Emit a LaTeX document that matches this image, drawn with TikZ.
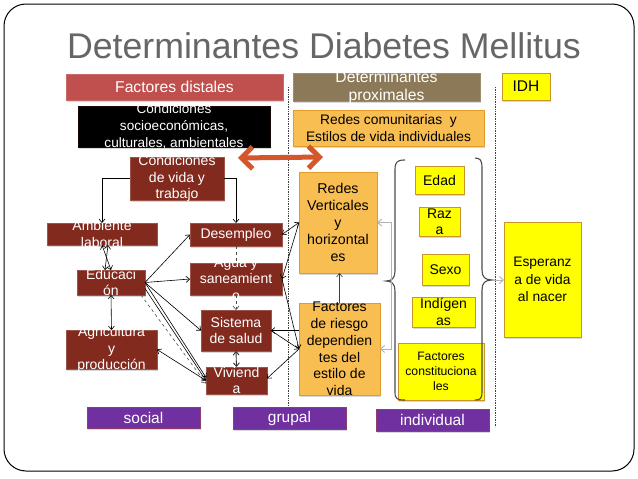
\documentclass[tikz,border=0pt]{standalone}
\usepackage{fontspec}
\setmainfont{Liberation Sans}
\usetikzlibrary{arrows.meta,shadows,calc}
\definecolor{cRed}{HTML}{C0504D}
\definecolor{cBrown}{HTML}{8C7957}
\definecolor{cDark}{HTML}{822A1E}
\definecolor{cOrange}{HTML}{F9BE52}
\definecolor{cOrangeB}{HTML}{E39B2C}
\definecolor{cYellow}{HTML}{FFFF00}
\definecolor{cYellowB}{HTML}{C8952B}
\definecolor{cPurple}{HTML}{7030A0}
\definecolor{cPurpleB}{HTML}{8E3E6C}
\definecolor{cArrow}{HTML}{D4562A}
\definecolor{cTitle}{HTML}{666666}
\newcommand{\fs}[2]{\fontsize{#1}{#2}\selectfont}
\newcommand{\mkbox}[6]{\node[#1, minimum width={(#5-#3)*1pt}, minimum height={(#6-#4)*1pt}] (#2) at ({(#3+#5)/2},{(#4+#6)/2}) {};}
\tikzset{
  bx/.style={rectangle, inner sep=0pt, outer sep=0pt, line width=0.8pt,
    drop shadow={shadow xshift=1.3pt, shadow yshift=-1.6pt, opacity=0.3}},
  redF/.style={bx, fill=cRed, draw=cRed!85!white},
  brownP/.style={bx, fill=cBrown, draw=cBrown!85!white},
  blackbox/.style={bx, fill=black, draw=black!80!cDark},
  darkbox/.style={bx, fill=cDark, draw=cDark!80!white},
  orangebox/.style={bx, fill=cOrange, draw=cOrangeB},
  yellowbox/.style={bx, fill=cYellow, draw=cYellowB},
  purplebox/.style={bx, fill=cPurple, draw=cPurpleB},
  lab/.style={inner sep=0pt, align=center, text=black},
  wlab/.style={lab, text=white},
  conn/.style={line width=0.6pt, black},
  ar/.style={conn, -{Straight Barb[length=3.5pt,width=6pt]}},
  dar/.style={conn, {Straight Barb[length=3.5pt,width=6pt]}-{Straight Barb[length=3.5pt,width=6pt]}},
  dsh/.style={conn, dashed, black!70},
  gconn/.style={line width=0.9pt, black!30, -{Straight Barb[length=4pt,width=7pt]}},
  sepline/.style={densely dotted, line width=0.7pt, black!75},
  bracepath/.style={line width=1.1pt, black!70},
  bigarrow/.style={line width=5pt, cArrow,
    {Straight Barb[length=11pt,width=22pt,line width=5pt]}-{Straight Barb[length=11pt,width=22pt,line width=5pt]}}
}
\begin{document}
\begin{tikzpicture}[x=1pt,y=-1pt]
\useasboundingbox (0,0) rectangle (638,479);
\fill[white] (0,0) rectangle (638,479);
\draw[line width=1pt, rounded corners=22pt] (4,4) rectangle (634,471);

\node[anchor=base, text=cTitle, inner sep=0pt, font=\fs{35.7}{40}] (title) at (324,58) {Determinantes Diabetes Mellitus};

% separators
\draw[sepline] (288,87) -- (288,405);
\draw[sepline] (495,87) -- (495,427);

% header boxes
\mkbox{redF}{fd}{66}{74}{283}{100}
\node[wlab, font=\fs{15.7}{18}] at (fd) {Factores distales};
\mkbox{brownP}{dp}{293}{73}{480}{101}
\node[wlab, font=\fs{15.7}{18}] at (dp) {Determinantes\\proximales};
\mkbox{yellowbox}{idh}{502}{73}{550}{100}
\node[lab, font=\fs{15.5}{18}] at (idh) {IDH};

\mkbox{blackbox}{cse}{78}{106}{270}{147}
\node[wlab, font=\fs{13.6}{17}] at (cse) {Condiciones\\socioeconómicas,\\culturales, ambientales};
\mkbox{orangebox}{rc}{293}{110}{484}{146}
\node[lab, font=\fs{13.8}{16.7}] at (rc) {Redes comunitarias~ y\\Estilos de vida individuales};

% social column
\mkbox{darkbox}{condv}{130}{157}{224}{200}
\node[wlab, font=\fs{14}{16.7}] at (condv) {Condiciones\\de vida y\\trabajo};
\mkbox{darkbox}{amb}{47}{223}{157}{245}
\node[wlab, font=\fs{14}{16.7}] at (amb) {Ambiente\\laboral};
\mkbox{darkbox}{des}{190}{223}{282}{246}
\node[wlab, font=\fs{14}{16.7}] at (des) {Desempleo};
\mkbox{darkbox}{edu}{77}{270}{145}{295}
\node[wlab, font=\fs{14}{16.7}] at (edu) {Educaci\\ón};
\mkbox{darkbox}{agua}{190}{263}{282}{295}
\node[wlab, font=\fs{14}{16.7}] at (agua) {Agua y\\saneamient\\o};
\mkbox{darkbox}{sis}{201}{310}{271}{351}
\node[wlab, font=\fs{14}{16.7}] at (sis) {Sistema\\de salud};
\mkbox{darkbox}{agri}{66}{330}{157}{369}
\node[wlab, font=\fs{14}{16.7}] at (agri) {Agricultura\\y\\producción};
\mkbox{darkbox}{viv}{206}{367}{267}{394}
\node[wlab, font=\fs{14}{16.7}] at (viv) {Viviend\\a};

% grupal column
\mkbox{orangebox}{redes}{299}{172}{377}{273}
\node[lab, font=\fs{14.2}{17}] at (redes) {Redes\\Verticales\\y\\horizontal\\es};
\mkbox{orangebox}{riesgo}{299}{303}{380}{395}
\node[lab, font=\fs{14}{16.8}] at (riesgo) {Factores\\de riesgo\\dependien\\tes del\\estilo de\\vida};

% individual column
\mkbox{yellowbox}{edad}{415}{166}{464}{194}
\node[lab, font=\fs{14}{16.5}] at (edad) {Edad};
\mkbox{yellowbox}{raza}{419}{207}{460}{236}
\node[lab, font=\fs{14}{16.5}] at (raza) {Raz\\a};
\mkbox{yellowbox}{sexo}{422}{254}{469}{285}
\node[lab, font=\fs{14}{16.5}] at (sexo) {Sexo};
\mkbox{yellowbox}{indi}{412}{297}{475}{327}
\node[lab, font=\fs{14}{16.5}] at (indi) {Indígen\\as};
\mkbox{yellowbox}{fcon}{398}{343}{484}{400}
\node[lab, font=\fs{12.2}{14.7}] at (fcon) {Factores\\constituciona\\les};

\mkbox{yellowbox}{esp}{504}{222}{581}{337}
\node[lab, font=\fs{13.8}{17.5}] at (esp) {Esperanz\\a de vida\\al nacer};

% bottom labels
\mkbox{purplebox}{soc}{87}{407}{200}{428}
\node[wlab, font=\fs{15.5}{18}] at (soc) {social};
\mkbox{purplebox}{gru}{233}{407}{346}{429}
\node[wlab, font=\fs{15.5}{18}] at (gru) {grupal};
\mkbox{purplebox}{ind}{376}{409}{489}{431}
\node[wlab, font=\fs{15.5}{18}] at (ind) {individual};

% braces
\coordinate (bl) at (386,281);
\coordinate (br) at (492,280);
\draw[bracepath] (405,160) .. controls (397,160) and (395,162) .. (395,170) -- (395,271)
  .. controls (395,278) and (392,281) .. (bl) .. controls (392,281) and (395,284) .. (395,291)
  -- (395,392) .. controls (395,399) and (397,400) .. (405,400);
\draw[bracepath] (475,158) .. controls (480,158) and (482,160) .. (482,168) -- (482,270)
  .. controls (482,277) and (485,280) .. (br) .. controls (485,280) and (482,283) .. (482,290)
  -- (482,392) .. controls (482,399) and (480,400) .. (475,400);

% gray connectors
\coordinate (gl) at (391,281);
\draw[gconn] (gl) |- (redes.east);
\draw[gconn] (gl) |- (riesgo.east);
\draw[gconn] (br) -- (br -| esp.west);

% orange double arrow
\coordinate (oa1) at (238,158);
\coordinate (oa2) at (323,157);
\draw[bigarrow] (oa1) -- (oa2);

% black connectors
\draw[ar] (condv.west) -| (amb.north);
\draw[ar] (condv.east) -| (des.north);
\draw[dar] (amb.south) -- (edu.north);
\draw[dar] ($(amb.south)+(6,0)$) -- ($(edu.north)-(6,0)$);
\draw[ar] (edu.east) -- (des.west);
\draw[ar] (edu.east) -- (agua.west);
\draw[ar] (edu.east) -- (sis.west);
\draw[ar] (edu.east) -- ($(viv.west)+(0,-3)$);
\draw[ar] ($(edu.east)+(0,6)$) -- (viv.west);
\draw[dsh, -{Straight Barb[length=3.5pt,width=6pt]}] ($(edu.south east)+(-4,0)$) -- ($(viv.west)+(0,3)$);
\draw[dar] (edu.south) -- (agri.north);
\draw[dar] (agri.east) -- (viv.west);
\draw[dsh] (des.south) -- (agua.north);
\draw[dsh, -{Straight Barb[length=3.5pt,width=6pt]}] (agua.south) -- (sis.north);
\draw[dar, line width=0.9pt, black!80] (sis.south) -- (viv.north);
\draw[dar] (redes.west) -- (des.east);
\draw[ar] (redes.west) -- (agua.east);
\draw[ar] (agua.east) -- (riesgo.west);
\draw[ar] (riesgo.west |- sis.east) -- (sis.east);
\draw[ar] (sis.east) -- (riesgo.west);
\draw[ar] (riesgo.west) -- ($(viv.east)+(0,-2)$);
\draw[conn, black!75, -{Straight Barb[length=3.5pt,width=6pt]}] (riesgo.north) -- (riesgo.north |- redes.south);
\end{tikzpicture}
\end{document}
